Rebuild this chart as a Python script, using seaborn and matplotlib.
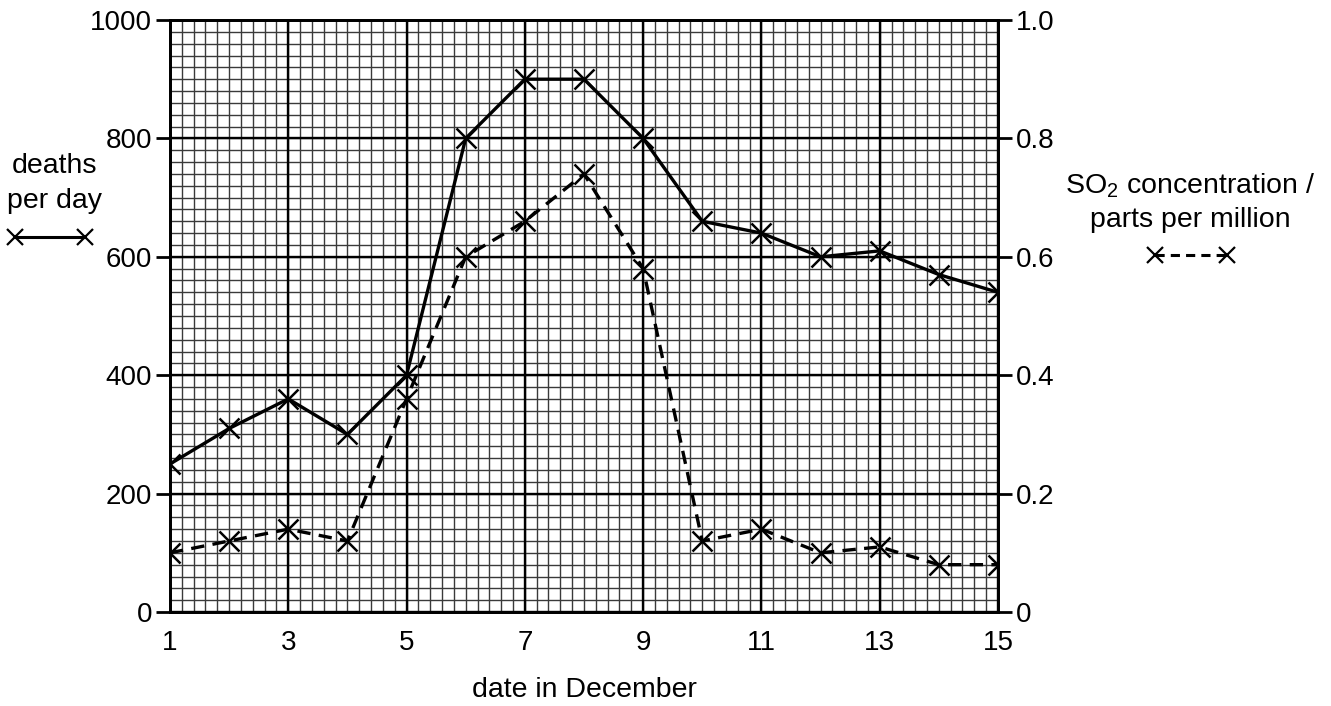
import matplotlib
import numpy as np
import seaborn as sns

matplotlib.use("Agg")

import matplotlib.pyplot as plt
from matplotlib.lines import Line2D

days = [1, 2, 3, 4, 5, 6, 7, 8, 9, 10, 11, 12, 13, 14, 15]
deaths = [250, 310, 360, 300, 400, 800, 900, 900, 800, 660, 640, 600, 610, 570, 540]
so2 = [0.10, 0.12, 0.14, 0.12, 0.36, 0.60, 0.66, 0.74, 0.58, 0.12, 0.14, 0.10, 0.11, 0.08, 0.08]
x_ticks = [1, 3, 5, 7, 9, 11, 13, 15]
left_ticks = [0, 200, 400, 600, 800, 1000]
right_ticks = [0, 0.2, 0.4, 0.6, 0.8, 1.0]
right_labels = ["0", "0.2", "0.4", "0.6", "0.8", "1.0"]


def main() -> None:
    sns.set_style("white")
    plt.rcParams["font.family"] = ["Liberation Sans", "DejaVu Sans"]
    plt.rcParams["text.color"] = "black"
    plt.rcParams["mathtext.fontset"] = "custom"
    plt.rcParams["mathtext.rm"] = "Liberation Sans"

    fig = plt.figure(figsize=(13.31, 7.06), dpi=100)
    ax = fig.add_axes([0.1277, 0.1331, 0.6221, 0.8386])
    ax2 = ax.twinx()

    ax.set_xlim(1, 15)
    ax.set_ylim(0, 1000)
    ax2.set_ylim(0, 1.0)

    # graph paper
    for xv in np.arange(1, 15.001, 0.2):
        ax.axvline(xv, color="#3a3a3a", lw=1.0, zorder=1)
    for yv in np.arange(0, 1000.1, 20):
        ax.axhline(yv, color="#3a3a3a", lw=1.0, zorder=1)
    for xv in x_ticks:
        ax.axvline(xv, color="black", lw=1.7, zorder=1.5)
    for yv in left_ticks:
        ax.axhline(yv, color="black", lw=1.7, zorder=1.5)

    sns.lineplot(x=days, y=deaths, ax=ax, color="black", lw=2.4, marker="x",
                 markersize=15, markeredgewidth=1.8, markeredgecolor="black", zorder=3)
    sns.lineplot(x=days, y=so2, ax=ax2, color="black", lw=2.4, linestyle=(0, (4, 2.5)),
                 marker="x", markersize=15, markeredgewidth=1.8, markeredgecolor="black", zorder=3)

    ax.set_xticks(x_ticks)
    ax.set_yticks(left_ticks)
    ax2.set_yticks(right_ticks)
    ax2.set_yticklabels(right_labels)
    for a in (ax, ax2):
        a.tick_params(axis="both", direction="out", length=10, width=2, labelsize=20,
                      colors="black", pad=3)
        for s in a.spines.values():
            s.set_linewidth(2)
            s.set_color("black")
    ax.set_xlabel("")
    ax.set_ylabel("")
    ax2.set_ylabel("")

    fig.text(0.4388, 0.0127, "date in December", ha="center", va="baseline", fontsize=20.5)

    fig.text(0.0413, 0.755, "deaths", ha="center", va="baseline", fontsize=20.5)
    fig.text(0.0413, 0.7054, "per day", ha="center", va="baseline", fontsize=20.5)
    fig.add_artist(Line2D([0.0113, 0.0639], [0.6643, 0.6643], color="black", lw=2.2,
                          marker="x", markersize=12, markeredgewidth=1.6))

    fig.text(0.894, 0.7266, "SO$_2$ concentration /", ha="center", va="baseline",
             fontsize=20.5)
    fig.text(0.894, 0.6785, "parts per million", ha="center", va="baseline", fontsize=20.5)
    fig.add_artist(Line2D([0.8678, 0.9219], [0.6388, 0.6388], color="black", lw=2.2,
                          linestyle=(0, (3, 2)), marker="x", markersize=12,
                          markeredgewidth=1.6))

    fig.savefig("out.png", dpi=100)
    plt.close(fig)


if __name__ == "__main__":
    main()
